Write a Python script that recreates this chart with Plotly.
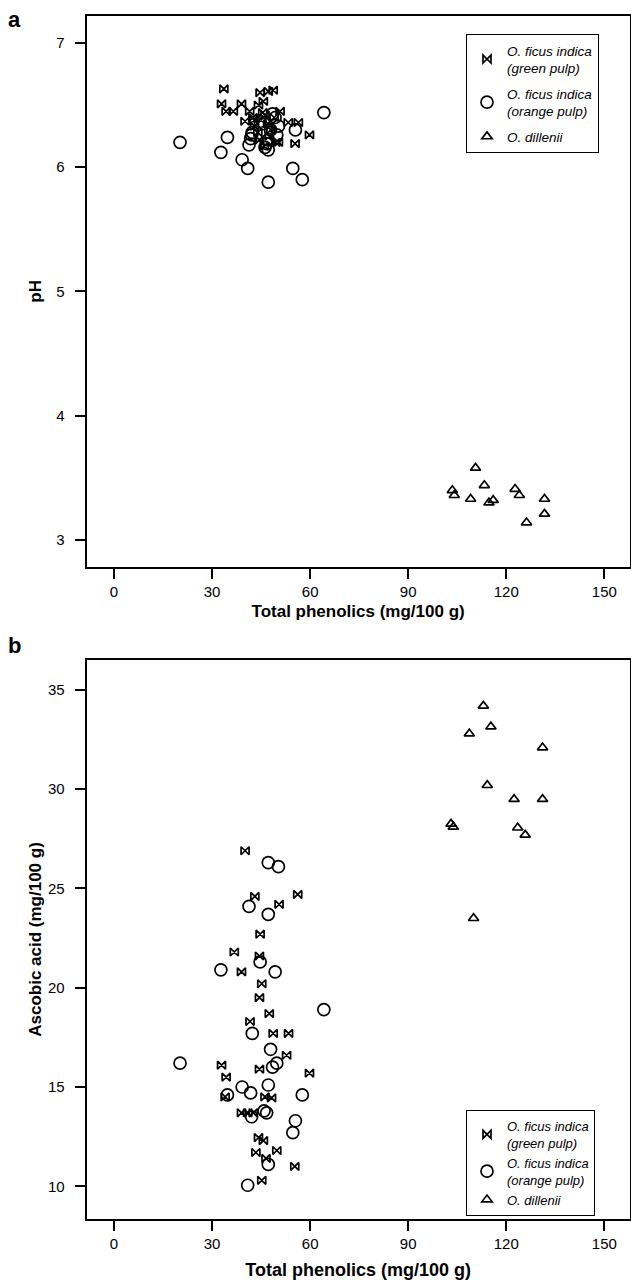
import plotly.graph_objects as go

# ---------------- Panel a: pH vs total phenolics ----------------
a_green_x = [33.6, 32.9, 34.3, 36.5, 39.0, 44.7, 47.2, 48.7, 45.7, 44.2, 53.3, 56.4,
             59.8, 55.4, 50.3, 50.8, 40.1, 41.5, 42.5, 43.0, 44.0, 45.0, 46.2, 47.0,
             48.0, 49.0, 44.5, 46.0, 47.5, 49.5, 42.8, 45.5]
a_green_ph = [6.63, 6.51, 6.45, 6.45, 6.51, 6.60, 6.61, 6.62, 6.53, 6.50, 6.36, 6.36,
              6.26, 6.19, 6.20, 6.45, 6.37, 6.45, 6.40, 6.33, 6.28, 6.38, 6.42, 6.35,
              6.30, 6.40, 6.22, 6.17, 6.25, 6.20, 6.38, 6.44]

a_orange_x = [20.2, 34.7, 32.7, 39.2, 40.9, 47.2, 54.7, 57.6, 64.2, 55.5, 41.3, 42.1,
              47.9, 50.3, 49.8, 48.5, 46.7, 47.2, 45.9, 44.7, 49.3, 42.3, 41.8, 47.2, 46.2]
a_orange_ph = [6.20, 6.24, 6.12, 6.06, 5.99, 5.88, 5.99, 5.90, 6.44, 6.30, 6.18, 6.26,
               6.30, 6.33, 6.26, 6.43, 6.19, 6.14, 6.35, 6.37, 6.40, 6.28, 6.23, 6.22, 6.16]

a_dill_x = [110.6, 103.5, 104.1, 109.1, 113.3, 114.7, 116.0, 122.7, 124.0, 131.7, 131.7, 126.2]
a_dill_ph = [3.58, 3.40, 3.36, 3.33, 3.44, 3.30, 3.32, 3.41, 3.36, 3.33, 3.21, 3.14]

# ---------------- Panel b: ascorbic acid vs total phenolics ----------------
b_green_x = [40.1, 43.1, 56.2, 50.5, 44.7, 36.8, 44.5, 39.0, 45.2, 44.5, 47.5, 41.6,
             48.7, 53.4, 52.8, 32.9, 44.5, 59.8, 34.3, 34.0, 46.2, 48.2, 39.0, 40.9,
             42.6, 44.2, 45.7, 43.4, 46.5, 49.8, 55.3, 45.2]
b_green_aa = [26.9, 24.6, 24.7, 24.2, 22.7, 21.8, 21.6, 20.8, 20.2, 19.5, 18.7, 18.3,
              17.7, 17.7, 16.6, 16.1, 15.9, 15.7, 15.5, 14.5, 14.5, 14.45, 13.7, 13.7,
              13.7, 12.45, 12.3, 11.7, 11.4, 11.8, 11.0, 10.3]

b_orange_x = [47.2, 50.3, 41.3, 47.2, 32.7, 44.7, 49.3, 64.2, 42.3, 47.9, 20.2, 49.8,
              48.5, 47.2, 39.2, 34.7, 41.8, 57.6, 45.9, 46.7, 42.1, 55.5, 54.7, 47.2, 40.9]
b_orange_aa = [26.3, 26.1, 24.1, 23.7, 20.9, 21.3, 20.8, 18.9, 17.7, 16.9, 16.2, 16.2,
               16.0, 15.1, 15.0, 14.6, 14.7, 14.6, 13.8, 13.7, 13.5, 13.3, 12.7, 11.1, 10.05]

b_dill_x = [113.0, 115.3, 108.7, 131.1, 114.2, 122.4, 131.1, 103.1, 103.8, 123.5, 125.8, 110.0]
b_dill_aa = [34.2, 33.15, 32.8, 32.1, 30.2, 29.5, 29.5, 28.25, 28.1, 28.06, 27.7, 23.5]

x_ticks = [0, 30, 60, 90, 120, 150]
a_y_ticks = [3, 4, 5, 6, 7]
b_y_ticks = [10, 15, 20, 25, 30, 35]

names = ["<i>O. ficus indica</i><br><i>(green pulp)</i>",
         "<i>O. ficus indica</i><br><i>(orange pulp)</i>",
         "<i>O. dillenii</i>"]

W, H = 631, 1287
FONT = "Liberation Sans, Arial, Helvetica, sans-serif"

def px_x(p):
    return p / W

def px_y(p):
    return 1 - p / H

marker_styles = [
    dict(symbol="bowtie-open", size=8, color="black", line=dict(width=1.7, color="black")),
    dict(symbol="circle-open", size=12, color="black", line=dict(width=1.7, color="black")),
    dict(symbol="triangle-up-open", size=9, color="black", line=dict(width=1.7, color="black")),
]

fig = go.Figure()
a_sets = [(a_green_x, a_green_ph), (a_orange_x, a_orange_ph), (a_dill_x, a_dill_ph)]
b_sets = [(b_green_x, b_green_aa), (b_orange_x, b_orange_aa), (b_dill_x, b_dill_aa)]
for i, (xs, ys) in enumerate(a_sets):
    fig.add_trace(go.Scatter(x=xs, y=ys, mode="markers", name=names[i], marker=marker_styles[i],
                             xaxis="x", yaxis="y", legend="legend", legendgroup="a%d" % i))
for i, (xs, ys) in enumerate(b_sets):
    fig.add_trace(go.Scatter(x=xs, y=ys, mode="markers", name=names[i], marker=marker_styles[i],
                             xaxis="x2", yaxis="y2", legend="legend2", legendgroup="b%d" % i))

axis_common = dict(showline=True, mirror=True, linewidth=2, linecolor="black",
                   ticks="outside", ticklen=10, tickwidth=1.5, tickcolor="black",
                   showgrid=False, zeroline=False,
                   tickfont=dict(family=FONT, size=15, color="black"))

x_dom = [px_x(86.7), px_x(629.5)]
x_range = [-8.35, 157.7]

legend_common = dict(xanchor="left", bordercolor="black", borderwidth=1, bgcolor="white",
                     itemsizing="trace")

fig.update_layout(
    width=W, height=H,
    margin=dict(l=0, r=0, t=0, b=0),
    paper_bgcolor="white", plot_bgcolor="white",
    font=dict(family=FONT, color="black"),
    xaxis=dict(domain=x_dom, range=x_range, tickvals=x_ticks, anchor="y",
               title=dict(text="<b>Total phenolics (mg/100 g)</b>", font=dict(size=17), standoff=6),
               **axis_common),
    yaxis=dict(domain=[px_y(566.7), px_y(16)], range=[2.785, 7.217], tickvals=a_y_ticks, anchor="x",
               ticklabelstandoff=7,
               title=dict(text="<b>pH</b>", font=dict(size=17), standoff=10),
               **axis_common),
    xaxis2=dict(domain=x_dom, range=x_range, tickvals=x_ticks, anchor="y2",
                title=dict(text="<b>Total phenolics (mg/100 g)</b>", font=dict(size=18), standoff=12),
                **axis_common),
    yaxis2=dict(domain=[px_y(1219), px_y(660)], range=[8.35, 36.51], tickvals=b_y_ticks, anchor="x2",
                ticklabelstandoff=7,
                title=dict(text="<b>Ascobic acid (mg/100 g)</b>", font=dict(size=17), standoff=2),
                **axis_common),
    legend=dict(x=px_x(466), y=px_y(34), yanchor="top", tracegroupgap=5,
                font=dict(family=FONT, size=13.5, color="black"), **legend_common),
    legend2=dict(x=px_x(466), y=px_y(1216), yanchor="bottom", tracegroupgap=0,
                 font=dict(family=FONT, size=13, color="black"), **legend_common),
    showlegend=True,
    annotations=[
        dict(text="<b>a</b>", x=px_x(14), y=px_y(19), xref="paper", yref="paper",
             showarrow=False, font=dict(size=22, family=FONT), xanchor="center", yanchor="middle"),
        dict(text="<b>b</b>", x=px_x(14), y=px_y(646), xref="paper", yref="paper",
             showarrow=False, font=dict(size=22, family=FONT), xanchor="center", yanchor="middle"),
    ],
)

fig.write_html("out.html", config={"displayModeBar": False},
               post_script="document.body.style.margin='0';document.body.style.overflow='hidden';")
